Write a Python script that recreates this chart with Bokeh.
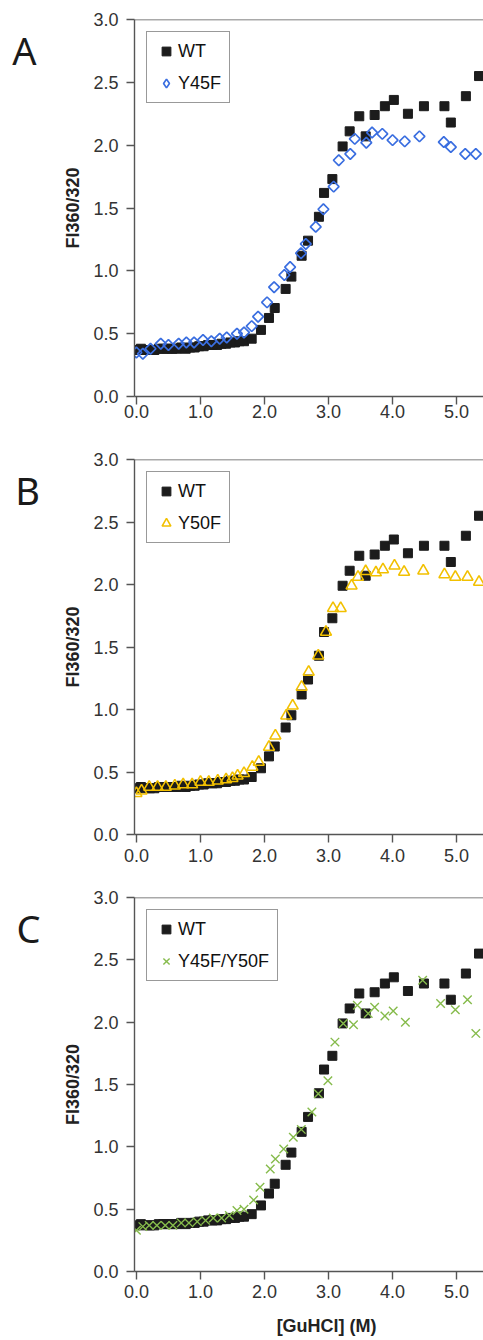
from bokeh.plotting import figure
from bokeh.layouts import column, row
from bokeh.models import (Label, Span, FixedTicker, PrintfTickFormatter, Legend, LegendItem,
                          Spacer)
from bokeh.embed import file_html
from bokeh.resources import INLINE

# ---- data ----
wt_x = [0.00, 0.07, 0.14, 0.21, 0.28, 0.35, 0.42, 0.49, 0.56, 0.63, 0.70, 0.77, 0.84, 0.91, 0.98,
        1.05, 1.12, 1.19, 1.26, 1.33, 1.40, 1.47, 1.54, 1.61, 1.68,
        1.80, 1.945, 2.07, 2.16, 2.33, 2.42, 2.58, 2.68, 2.85, 2.93, 3.06, 3.22, 3.33, 3.48, 3.58,
        3.72, 3.88, 4.02, 4.24, 4.49, 4.81, 4.91, 5.145, 5.35]
wt_y = [0.37, 0.38, 0.37, 0.37, 0.37, 0.38, 0.38, 0.38, 0.38, 0.38, 0.39, 0.38, 0.39, 0.39, 0.40,
        0.40, 0.41, 0.41, 0.41, 0.42, 0.42, 0.43, 0.43, 0.44, 0.44,
        0.46, 0.53, 0.625, 0.704, 0.856, 0.954, 1.12, 1.24, 1.43, 1.62, 1.73, 1.99, 2.11, 2.23, 2.07,
        2.24, 2.31, 2.36, 2.25, 2.31, 2.31, 2.18, 2.39, 2.55]

y45f_x = [0.00, 0.10, 0.22, 0.38, 0.50, 0.66, 0.78, 0.90, 1.04, 1.17, 1.30, 1.41, 1.57, 1.68, 1.80,
          1.90, 2.04, 2.15, 2.31, 2.40, 2.57, 2.645, 2.80, 2.92, 3.08, 3.16, 3.34, 3.41, 3.59, 3.68,
          3.84, 4.00, 4.19, 4.42, 4.80, 4.91, 5.135, 5.30]
y45f_y = [0.35, 0.34, 0.38, 0.42, 0.41, 0.42, 0.43, 0.43, 0.45, 0.44, 0.46, 0.47, 0.50, 0.51, 0.56,
          0.635, 0.749, 0.87, 0.967, 1.03, 1.14, 1.214, 1.35, 1.49, 1.67, 1.88, 1.93, 2.05, 2.02, 2.10,
          2.09, 2.04, 2.03, 2.07, 2.025, 1.985, 1.93, 1.93]

y50f_x = [0.00, 0.08, 0.20, 0.33, 0.46, 0.60, 0.73, 0.87, 1.00, 1.13, 1.27, 1.40, 1.50, 1.58,
          1.68, 1.81, 1.91, 2.07, 2.17, 2.34, 2.44, 2.58, 2.69, 2.84, 2.96, 3.07, 3.19, 3.36, 3.46,
          3.58, 3.74, 3.85, 4.03, 4.18, 4.48, 4.81, 4.98, 5.17, 5.35]
y50f_y = [0.33, 0.35, 0.38, 0.38, 0.38, 0.39, 0.40, 0.40, 0.42, 0.42, 0.43, 0.44, 0.45, 0.47,
          0.49, 0.54, 0.58, 0.70, 0.79, 0.95, 1.03, 1.18, 1.30, 1.43, 1.62, 1.81, 1.81, 1.99, 2.06,
          2.105, 2.095, 2.12, 2.15, 2.10, 2.11, 2.08, 2.06, 2.06, 2.02]

dm_x = [0.00, 0.10, 0.20, 0.32, 0.45, 0.57, 0.70, 0.82, 0.95, 1.08, 1.20, 1.33, 1.45,
        1.57, 1.68, 1.83, 1.93, 2.09, 2.17, 2.30, 2.45, 2.575, 2.74, 2.84, 2.99, 3.10, 3.23, 3.39,
        3.45, 3.62, 3.72, 3.88, 4.01, 4.20, 4.47, 4.75, 4.98, 5.17, 5.30]
dm_y = [0.33, 0.36, 0.37, 0.37, 0.37, 0.37, 0.39, 0.39, 0.40, 0.41, 0.43, 0.43, 0.45,
        0.49, 0.50, 0.573, 0.675, 0.822, 0.903, 0.983, 1.077, 1.14, 1.28, 1.425, 1.53, 1.84, 1.99, 1.98,
        2.135, 2.07, 2.12, 2.05, 2.09, 2.00, 2.336, 2.15, 2.10, 2.18, 1.91]

x_ticks = [0, 1, 2, 3, 4, 5]
y_ticks = [0.0, 0.5, 1.0, 1.5, 2.0, 2.5, 3.0]
panel_letters = ["A", "B", "C"]
mutant_names = ["Y45F", "Y50F", "Y45F/Y50F"]
x_title = "[GuHCl] (M)"
y_title = "FI360/320"

FONT = "Liberation Sans"
AXC = "#555555"
LEFT_W = 50
X_RANGE = (-0.03, 5.42)
NAN = float("nan")


def letter_fig(letter, height, lx):
    f = figure(width=LEFT_W, height=height, output_backend="svg", toolbar_location=None,
               x_range=(0, LEFT_W), y_range=(height, 0), min_border=0,
               x_axis_location=None, y_axis_location=None)
    f.outline_line_color = None
    f.xgrid.visible = False
    f.ygrid.visible = False
    f.add_layout(Label(x=lx, y=36, text=letter, text_font="Noto Sans",
                       text_font_size="38px", text_align="center", text_baseline="middle",
                       text_color="#1a1a1a"))
    return f


def make_panel(mx, my, mname, kind, height, bottom, xstandoff):
    p = figure(width=483 - LEFT_W, height=height, output_backend="svg", toolbar_location=None,
               x_range=X_RANGE, y_range=(0, 3.0),
               min_border_left=134 - LEFT_W, min_border_right=0, min_border_top=19,
               min_border_bottom=bottom)
    p.outline_line_color = None
    p.xgrid.visible = False
    p.ygrid.visible = False

    p.xaxis.ticker = FixedTicker(ticks=x_ticks)
    p.xaxis.formatter = PrintfTickFormatter(format="%.1f")
    p.yaxis.ticker = FixedTicker(ticks=y_ticks)
    p.yaxis.formatter = PrintfTickFormatter(format="%.1f")
    for ax in (p.xaxis, p.yaxis):
        ax.axis_line_color = AXC
        ax.axis_line_width = 1.4
        ax.major_tick_line_color = AXC
        ax.major_tick_line_width = 1.4
        ax.major_tick_out = 8
        ax.major_tick_in = 0
        ax.minor_tick_line_color = None
        ax.major_label_text_font = FONT
        ax.major_label_text_font_size = "18px"
        ax.major_label_text_color = "#333333"
    p.xaxis.major_label_standoff = xstandoff
    p.yaxis.major_label_standoff = 8
    p.yaxis.axis_label = y_title
    p.yaxis.axis_label_text_font = FONT
    p.yaxis.axis_label_text_font_style = "bold"
    p.yaxis.axis_label_text_font_size = "18px"
    p.yaxis.axis_label_text_color = "#222222"
    p.yaxis.axis_label_standoff = 7

    p.add_layout(Span(location=3.0, dimension="width", line_color=AXC, line_width=1.4))

    r_wt = p.scatter(wt_x, wt_y, marker="square", size=9, fill_color="#1c1c1c",
                     line_color="#1c1c1c")
    if kind == "diamond":
        r_m = p.scatter(mx, my, marker="square", angle=0.785398, size=7.6, fill_color=None,
                        line_color="#3a6ee0", line_width=1.7)
        # legend-only glyph (legend markers are never rotated); its point is NaN, so not drawn
        r_leg = p.scatter(x=[NAN], y=[NAN], marker="diamond", fill_color=None,
                          line_color="#3a6ee0", line_width=1.7)
    elif kind == "triangle":
        r_m = p.scatter(mx, my, marker="triangle", size=11, fill_color=None,
                        line_color="#f2c000", line_width=1.6)
        r_leg = r_m
    else:
        r_m = p.scatter(mx, my, marker="x", size=12, fill_color=None,
                        line_color="#86bb4c", line_width=1.4)
        r_leg = r_m

    leg = Legend(items=[LegendItem(label="WT", renderers=[r_wt]),
                        LegendItem(label=mname, renderers=[r_leg])],
                 location="top_left", margin=12, padding=8, spacing=10,
                 label_text_font=FONT, label_text_font_size="18px",
                 label_text_color="#111111", glyph_width=22, glyph_height=22,
                 label_standoff=1, border_line_color="#333333", border_line_width=1.2,
                 background_fill_color="white", background_fill_alpha=1.0)
    p.add_layout(leg)
    return p


def title_strip(x_range, height):
    f = figure(width=483 - LEFT_W, height=height, output_backend="svg", toolbar_location=None,
               x_range=x_range, y_range=(height, 0), min_border=0,
               min_border_left=134 - LEFT_W, x_axis_location=None, y_axis_location=None)
    f.outline_line_color = None
    f.xgrid.visible = False
    f.ygrid.visible = False
    f.add_layout(Label(x=2.97, y=9, text=x_title, text_font=FONT,
                       text_font_style="bold", text_font_size="18px",
                       text_align="center", text_baseline="middle", text_color="#222222"))
    return f


pa = make_panel(y45f_x, y45f_y, mutant_names[0], "diamond", 440, 44, 0)
pb = make_panel(y50f_x, y50f_y, mutant_names[1], "triangle", 438, 44, 6)
pc = make_panel(dm_x, dm_y, mutant_names[2], "x", 438, 45, 5)
strip = title_strip(pc.x_range, 24)

layout = column(
    row(letter_fig(panel_letters[0], 440, 24), pa, spacing=0),
    row(letter_fig(panel_letters[1], 438, 27), pb, spacing=0),
    row(letter_fig(panel_letters[2], 438, 28), pc, spacing=0),
    row(Spacer(width=LEFT_W, height=24), strip, spacing=0),
    spacing=0,
)
open("out.html", "w").write(file_html(layout, INLINE))
